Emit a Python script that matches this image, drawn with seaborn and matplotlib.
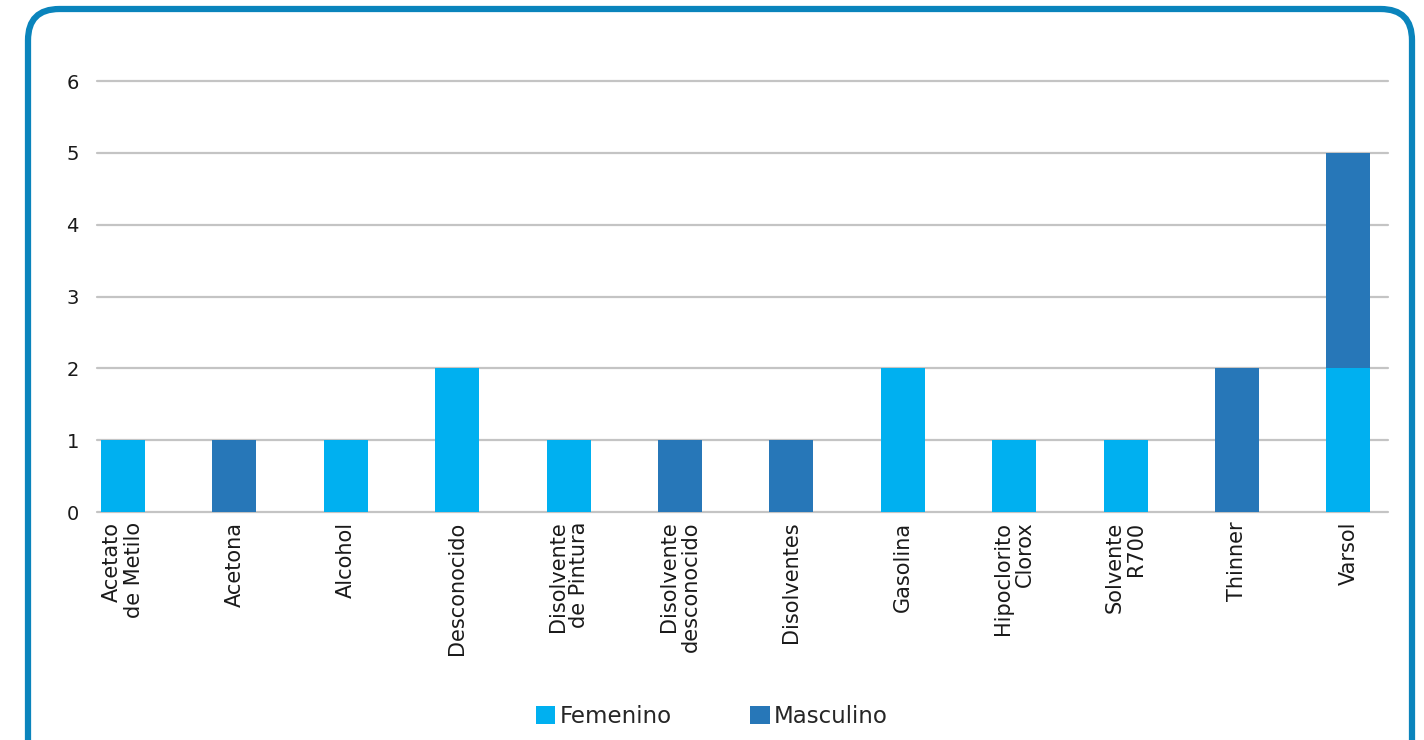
import matplotlib
matplotlib.use("Agg")
import matplotlib.pyplot as plt
import seaborn as sns
import pandas as pd
from matplotlib.patches import FancyBboxPatch, Patch

categories = ["Acetato\nde Metilo", "Acetona", "Alcohol", "Desconocido",
              "Disolvente\nde Pintura", "Disolvente\ndesconocido", "Disolventes",
              "Gasolina", "Hipoclorito\nClorox", "Solvente\nR700", "Thinner", "Varsol"]
femenino = [1, 0, 1, 2, 1, 0, 0, 2, 1, 1, 0, 2]
masculino = [0, 1, 0, 0, 0, 1, 1, 0, 0, 0, 2, 3]
series_names = ["Femenino", "Masculino"]
colors = ["#00b0f0", "#2777b8"]

sns.set_theme(style="white")
plt.rcParams['font.family'] = ['DejaVu Sans']

df = pd.DataFrame({"cat": categories, "fem": femenino, "masc": masculino})

fig = plt.figure(figsize=(14.24, 7.4), dpi=100)
ax = fig.add_axes([0.0681, 0.3081, 0.9066, 0.5824])

sns.barplot(data=df, x="cat", y="fem", color=colors[0], width=0.395,
            saturation=1, ax=ax, linewidth=0, zorder=3)
sns.barplot(data=df, x="cat", y="masc", color=colors[1], width=0.395,
            saturation=1, ax=ax, linewidth=0, bottom=df["fem"], zorder=3)

ax.set_ylim(0, 6)
ax.set_xlim(-0.233, 11.355)
ax.set_yticks(range(0, 7))
ax.yaxis.grid(True, color="#c4c4c4", linewidth=1.6, zorder=0)
for gl in ax.get_ygridlines():
    gl.set_clip_on(False)
ax.set_axisbelow(True)
for s in ax.spines.values():
    s.set_visible(False)
ax.set_xlabel("")
ax.set_ylabel("")
ax.tick_params(axis="both", length=0, colors="#1a1a1a")
ax.tick_params(axis="y", pad=13, labelsize=14)
ax.tick_params(axis="x", pad=7, labelsize=15)
for lbl in ax.get_xticklabels():
    lbl.set_rotation(90)
    lbl.set_ha("center")
    lbl.set_va("top")
    lbl.set_multialignment("right")
    lbl.set_linespacing(1.1)

handles = [Patch(facecolor=c, edgecolor="none") for c in colors]
fig.legend(handles, series_names, loc="center", bbox_to_anchor=(0.5, 0.032),
           ncol=2, frameon=False, fontsize=16.5, handlelength=0.85, handleheight=0.85,
           handletextpad=0.2, columnspacing=3.4)

border = FancyBboxPatch((28 / 1424, -0.2), (1412 - 28) / 1424, (740 - 9) / 740 + 0.2,
                        boxstyle="round,pad=0,rounding_size=0.022",
                        transform=fig.transFigure, facecolor="none",
                        edgecolor="#0a84bc", linewidth=4.5, mutation_aspect=1424 / 740)
fig.patches.append(border)

fig.savefig("out.png", dpi=100)
